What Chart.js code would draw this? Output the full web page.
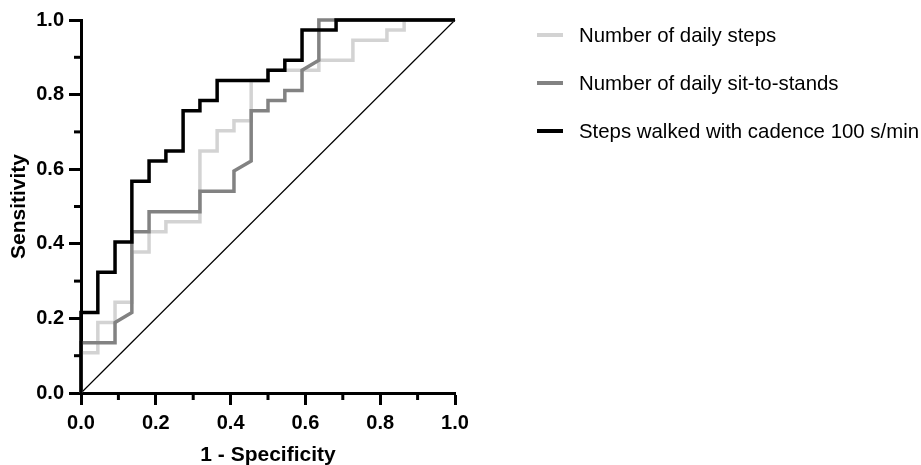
<!DOCTYPE html>
<html>
<head>
<meta charset="utf-8">
<script src="https://cdn.jsdelivr.net/npm/chart.js@4"></script>
<style>
  html, body { margin: 0; padding: 0; background: #fff; }
  #wrap { position: relative; width: 921px; height: 465px; overflow: hidden; font-family: "Liberation Sans", Arial, sans-serif; }
  #c { position: absolute; left: 0; top: 0; }
  .lg { position: absolute; left: 537px; height: 30px; display: flex; align-items: center; white-space: nowrap; }
  .lg .sw { width: 26px; height: 3.5px; margin-right: 16px; }
  .lg .tx { font-size: 20.4px; color: #000; }
</style>
</head>
<body>
<div id="wrap">
  <canvas id="c" width="921" height="465"></canvas>
</div>
<script>
// ---- data ----
const seriesLabels = ["Number of daily steps", "Number of daily sit-to-stands", "Steps walked with cadence 100 s/min"];
const seriesColors = ["#d3d3d3", "#828282", "#000000"];

const stepsX = [0,0,0.045,0.045,0.091,0.091,0.136,0.136,0.182,0.182,0.227,0.227,0.318,0.318,0.364,0.364,0.409,0.409,0.455,0.455,0.5,0.5,0.636,0.636,0.727,0.727,0.818,0.818,0.864,0.864,1];
const stepsY = [0,0.108,0.108,0.189,0.189,0.243,0.243,0.378,0.378,0.432,0.432,0.459,0.459,0.649,0.649,0.703,0.703,0.730,0.730,0.838,0.838,0.865,0.865,0.892,0.892,0.946,0.946,0.973,0.973,1,1];

const sitX = [0,0,0.091,0.091,0.136,0.136,0.182,0.182,0.318,0.318,0.409,0.409,0.455,0.455,0.5,0.5,0.545,0.545,0.591,0.591,0.636,0.636,1];
const sitY = [0,0.135,0.135,0.189,0.216,0.432,0.432,0.486,0.486,0.541,0.541,0.595,0.622,0.757,0.757,0.784,0.784,0.811,0.811,0.865,0.892,1,1];

const cadX = [0,0,0.045,0.045,0.091,0.091,0.136,0.136,0.182,0.182,0.227,0.227,0.273,0.273,0.318,0.318,0.364,0.364,0.5,0.5,0.545,0.545,0.591,0.591,0.682,0.682,1];
const cadY = [0,0.216,0.216,0.324,0.324,0.405,0.405,0.568,0.568,0.622,0.622,0.649,0.649,0.757,0.757,0.784,0.784,0.838,0.838,0.865,0.865,0.892,0.892,0.973,0.973,1,1];

const refX = [0, 1];
const refY = [0, 1];

const majorTicks = [0, 0.2, 0.4, 0.6, 0.8, 1.0];
const minorTicks = [0.1, 0.3, 0.5, 0.7, 0.9];
const xTitle = "1 - Specificity";
const yTitle = "Sensitivity";
// ---------------------------------------------

const toPts = (xs, ys) => xs.map((x, i) => ({ x: x, y: ys[i] }));
const FONT = '"Liberation Sans", Arial, sans-serif';

// HTML legend
const wrap = document.getElementById('wrap');
const legendTops = [20, 68, 116];
seriesLabels.forEach((lab, i) => {
  const d = document.createElement('div');
  d.className = 'lg';
  d.style.top = legendTops[i] + 'px';
  d.innerHTML = '<div class="sw" style="background:' + seriesColors[i] + '"></div><div class="tx"></div>';
  d.querySelector('.tx').textContent = lab;
  wrap.appendChild(d);
});

const minorTickPlugin = {
  id: 'minorTicks',
  afterDraw(chart) {
    const ctx = chart.ctx;
    const xs = chart.scales.x, ys = chart.scales.y;
    ctx.save();
    ctx.strokeStyle = '#000';
    ctx.lineWidth = 3;
    minorTicks.forEach(v => {
      const px = xs.getPixelForValue(v);
      ctx.beginPath();
      ctx.moveTo(px, xs.top);
      ctx.lineTo(px, xs.top + 7);
      ctx.stroke();
      const py = ys.getPixelForValue(v);
      ctx.beginPath();
      ctx.moveTo(ys.right, py);
      ctx.lineTo(ys.right - 7, py);
      ctx.stroke();
    });
    ctx.restore();
  }
};

const lineDs = (label, xs, ys, color, order) => ({
  label: label,
  data: toPts(xs, ys),
  showLine: true,
  borderColor: color,
  backgroundColor: color,
  borderWidth: 3.5,
  pointRadius: 0,
  pointHoverRadius: 0,
  tension: 0,
  fill: false,
  borderCapStyle: 'butt',
  borderJoinStyle: 'miter',
  clip: false,
  order: order
});

const axisCommon = (title) => ({
  type: 'linear',
  min: 0,
  max: 1,
  afterBuildTicks: (scale) => { scale.ticks = majorTicks.map(v => ({ value: v })); },
  ticks: {
    color: '#000',
    font: { family: FONT, size: 20, weight: 'bold' },
    callback: (v) => Number(v).toFixed(1),
    padding: 6
  },
  grid: {
    display: true,
    drawOnChartArea: false,
    drawTicks: true,
    tickLength: 12,
    tickWidth: 3,
    tickColor: '#000'
  },
  border: { display: true, width: 3, color: '#000' },
  title: {
    display: true,
    text: title,
    color: '#000',
    font: { family: FONT, size: 21, weight: 'bold' },
    padding: { top: 0, bottom: -3 }
  }
});

const xAxis = axisCommon(xTitle);
xAxis.afterFit = (s) => { s.height = 72; };
const yAxis = axisCommon(yTitle);
yAxis.afterFit = (s) => { s.width = 81; };
yAxis.ticks.padding = 5;
yAxis.title.padding = { top: 7, bottom: 0 };

new Chart(document.getElementById('c'), {
  type: 'scatter',
  data: {
    datasets: [
      lineDs(seriesLabels[0], stepsX, stepsY, seriesColors[0], 3),
      lineDs(seriesLabels[1], sitX, sitY, seriesColors[1], 2),
      lineDs(seriesLabels[2], cadX, cadY, seriesColors[2], 1),
      Object.assign(lineDs('reference', refX, refY, '#000', 4), { borderWidth: 1.2 })
    ]
  },
  options: {
    responsive: false,
    animation: false,
    devicePixelRatio: 1,
    layout: { padding: { left: 0, right: 466, top: 20, bottom: 0 } },
    plugins: {
      legend: { display: false },
      tooltip: { enabled: false }
    },
    scales: { x: xAxis, y: yAxis }
  },
  plugins: [minorTickPlugin]
});
</script>
</body>
</html>
